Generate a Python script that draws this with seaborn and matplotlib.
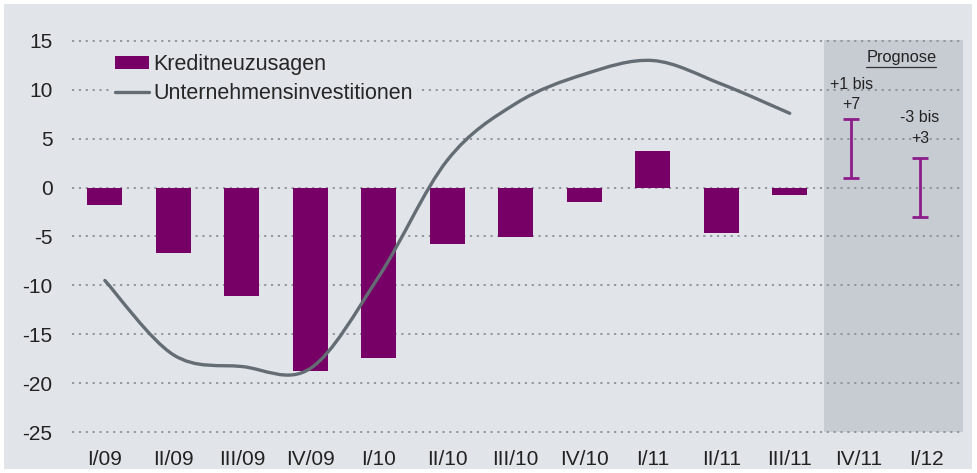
import numpy as np
import pandas as pd
import seaborn as sns
import matplotlib
matplotlib.use("Agg")
import matplotlib.pyplot as plt
from matplotlib.path import Path
from matplotlib.patches import PathPatch, Rectangle, Patch
from matplotlib.lines import Line2D

# ---- data ----
quarters = ["I/09", "II/09", "III/09", "IV/09", "I/10", "II/10", "III/10",
            "IV/10", "I/11", "II/11", "III/11", "IV/11", "I/12"]
kredit = [-1.8, -6.7, -11.1, -18.8, -17.4, -5.8, -5.1, -1.5, 3.7, -4.6, -0.8,
          np.nan, np.nan]
invest = [-9.5, -17.1, -18.3, -18.5, -9.1, 2.8, 8.6, 11.6, 13.0, 10.6, 7.6]
forecast_quarters = ["IV/11", "I/12"]
forecast_low = [1, -3]
forecast_high = [7, 3]
forecast_labels = ["+1 bis\n+7", "-3 bis\n+3"]
yticks = [-25, -20, -15, -10, -5, 0, 5, 10, 15]

BAR = "#760066"
LINE = "#646d74"
ERR = "#8c1c8a"
BG = "#e1e4e9"
SHADE = "#c7ccd3"
GRID = "#8c9198"
TXT = "#222222"

sns.set_theme(style="white")
plt.rcParams["font.family"] = ["Liberation Sans", "DejaVu Sans"]

fig = plt.figure(figsize=(9.77, 4.73), dpi=100)
fig.patch.set_facecolor("white")
fig.patches.append(Rectangle((4 / 977, 4 / 473), 968 / 977, 465 / 473,
                             transform=fig.transFigure, facecolor=BG,
                             edgecolor="none", zorder=-10))

ax = fig.add_axes([72 / 977, 1 - 432 / 473, 891 / 977, 392 / 473])
ax.set_facecolor("none")

df = pd.DataFrame({"q": quarters, "v": kredit})
sns.barplot(data=df, x="q", y="v", order=quarters, color=BAR, width=0.51,
            saturation=1, linewidth=0, edgecolor="none", ax=ax, zorder=3)

ax.set_xlim(-0.48, 12.53)
ax.set_ylim(-25, 15.1)

# forecast shading
ax.axvspan(10.5, 12.53, ymin=0, ymax=1, facecolor=SHADE, edgecolor="none", zorder=0)

# grid lines
for y in yticks:
    ax.axhline(y, color=GRID, linestyle=(0, (1.2, 2.6)), linewidth=1.3,
               zorder=1, clip_on=False)

# smooth line (Catmull-Rom as Bezier path)
xs = np.arange(len(invest), dtype=float)
pts = np.column_stack([xs, np.array(invest, dtype=float)])
verts = [tuple(pts[0])]
codes = [Path.MOVETO]
n = len(pts)
for i in range(n - 1):
    p0 = pts[max(i - 1, 0)]
    p1 = pts[i]
    p2 = pts[i + 1]
    p3 = pts[min(i + 2, n - 1)]
    c1 = p1 + (p2 - p0) / 6.0
    c2 = p2 - (p3 - p1) / 6.0
    verts += [tuple(c1), tuple(c2), tuple(p2)]
    codes += [Path.CURVE4] * 3
ax.add_patch(PathPatch(Path(verts, codes), facecolor="none", edgecolor=LINE,
                       linewidth=2.4, zorder=4, capstyle="round"))

# forecast ranges
label_offsets = [0.7, 1.3]
for q, lo, hi, lab, off in zip(forecast_quarters, forecast_low, forecast_high,
                               forecast_labels, label_offsets):
    xi = quarters.index(q)
    mid = (lo + hi) / 2
    ax.errorbar(xi - 0.1, mid, yerr=[[mid - lo], [hi - mid]], fmt="none",
                ecolor=ERR, elinewidth=2, capsize=5.5, capthick=2, zorder=5)
    ax.text(xi - 0.1, hi + off, lab, ha="center", va="bottom", fontsize=11.5,
            color=TXT, linespacing=1.45)

ax.text(11.63, 12.55, "Prognose", ha="center", va="bottom", fontsize=11.8,
        color=TXT)
ax.plot([11.12, 12.13], [12.3, 12.3], color="#333333", linewidth=0.9,
        clip_on=False)

# axes styling
for s in ax.spines.values():
    s.set_visible(False)
ax.set_yticks(yticks)
ax.set_yticklabels([str(t) for t in yticks])
ax.set_xlabel("")
ax.set_ylabel("")
ax.tick_params(axis="y", length=0, pad=14, labelsize=15, labelcolor=TXT)
ax.tick_params(axis="x", length=0, pad=13, labelsize=15, labelcolor=TXT)

handles = [Patch(facecolor=BAR, edgecolor="none"),
           Line2D([0], [0], color=LINE, linewidth=2.4)]
leg = ax.legend(handles, ["Kreditneuzusagen", "Unternehmensinvestitionen"],
                loc="upper left", bbox_to_anchor=(0.043, 0.975), frameon=True,
                facecolor=BG, edgecolor="none", framealpha=1,
                fontsize=15.5, handlelength=1.6, handleheight=0.55,
                handletextpad=0.2, labelspacing=0.35, borderpad=0.2,
                borderaxespad=0)
leg.set_zorder(6)

fig.savefig("out.png", dpi=100, facecolor="white")
